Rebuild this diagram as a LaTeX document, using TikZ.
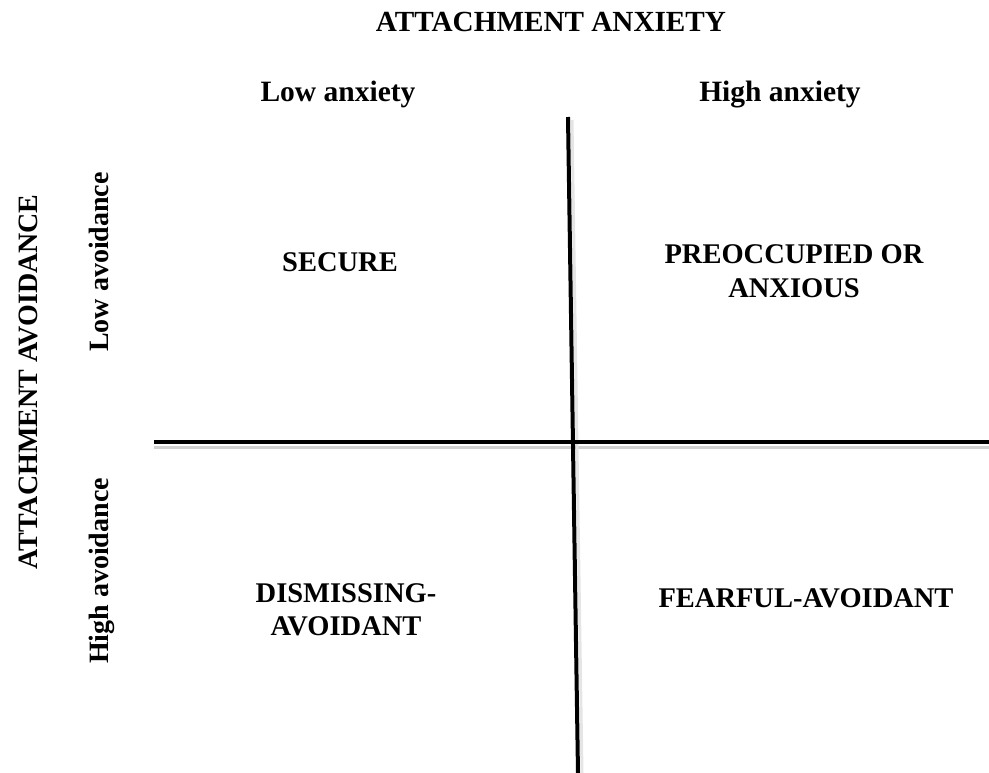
\documentclass[tikz,border=0pt]{standalone}
\usepackage{fontspec}
\setmainfont{Liberation Serif}
\begin{document}
\begin{tikzpicture}[x=1pt,y=-1pt,
  lbl/.style={font=\bfseries\fontsize{28.5}{33}\selectfont, inner sep=0pt, anchor=base, align=center},
  biglbl/.style={lbl, font=\bfseries\fontsize{29.5}{34}\selectfont},
  axisline/.style={line width=4pt, black},
  shadowline/.style={line width=3pt, black!18}]
\useasboundingbox (0,0) rectangle (989,773);
% header labels
\node[lbl, font=\bfseries\fontsize{29.2}{34}\selectfont] (hdr) at (551,32) {ATTACHMENT ANXIETY};
\node[biglbl] (lowanx) at (338,102) {Low anxiety};
\node[biglbl] (highanx) at (780,102) {High anxiety};
% side labels
\node[lbl, font=\bfseries\fontsize{28}{34}\selectfont, rotate=90] (side) at (37,382) {ATTACHMENT AVOIDANCE};
\node[lbl, font=\bfseries\fontsize{28}{34}\selectfont, rotate=90] (lowav) at (108,262) {Low avoidance};
\node[lbl, font=\bfseries\fontsize{28}{34}\selectfont, rotate=90] (highav) at (108,571) {High avoidance};
% quadrant labels
\node[lbl] (secure) at (340,272) {SECURE};
\node[lbl] (preocc) at (794,297) {PREOCCUPIED OR\\ANXIOUS};
\node[lbl] (dismiss) at (346,635) {DISMISSING-\\AVOIDANT};
\node[lbl] (fearful) at (806,607) {FEARFUL-AVOIDANT};
% axes
\coordinate (hL) at (154,442);
\coordinate (hR) at (989,442);
\coordinate (vT) at (568,117);
\coordinate (vB) at (578,773);
\draw[shadowline] ([shift={(0,5)}]hL) -- ([shift={(0,5)}]hR);
\draw[shadowline, black!10] ([shift={(4,3)}]vT) -- ([shift={(4,0)}]vB);
\draw[axisline] (hL) -- (hR);
\draw[axisline] (vT) -- (vB);
\end{tikzpicture}
\end{document}
